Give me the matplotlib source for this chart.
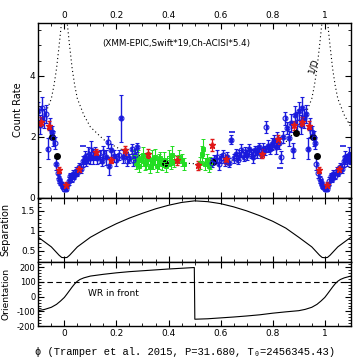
"""
Phase-folded X-ray light curve with orbital separation and orientation panels.
"""

import numpy as np
import matplotlib.pyplot as plt
from matplotlib.ticker import MultipleLocator, FormatStrFormatter

# ---- data (phase in [0, 1), repeated at phase -1 / +1 when drawn) ----
xmm_phase = [0.000, 0.004, 0.008, 0.012, 0.018, 0.022, 0.028, 0.032, 0.038, 0.045,
             0.050, 0.058, 0.065, 0.072, 0.078, 0.085, 0.092, 0.098, 0.104, 0.110,
             0.118, 0.125, 0.135, 0.145, 0.150, 0.160, 0.166, 0.172, 0.180, 0.190,
             0.200, 0.208, 0.217, 0.225, 0.235, 0.242, 0.250, 0.258, 0.265, 0.272,
             0.280, 0.565, 0.575, 0.585, 0.592, 0.600, 0.608, 0.615, 0.625, 0.632,
             0.640, 0.650, 0.658, 0.665, 0.672, 0.680, 0.688, 0.695, 0.702, 0.710,
             0.718, 0.725, 0.732, 0.740, 0.748, 0.755, 0.762, 0.770, 0.776, 0.782,
             0.790, 0.798, 0.805, 0.812, 0.818, 0.825, 0.830, 0.840, 0.849, 0.855,
             0.862, 0.870, 0.878, 0.885, 0.892, 0.900, 0.907, 0.913, 0.920, 0.928,
             0.936, 0.945, 0.952, 0.958, 0.963, 0.968, 0.975, 0.980, 0.985, 0.990,
             0.995]
xmm_rate = [0.30, 0.38, 0.28, 0.42, 0.55, 0.70, 0.62, 0.78, 0.72, 0.88,
            0.82, 1.00, 0.95, 1.20, 1.32, 1.25, 1.40, 1.30, 1.55, 1.35,
            1.45, 1.30, 1.35, 1.20, 1.50, 1.32, 1.83, 1.05, 1.55, 1.38,
            1.25, 1.40, 2.60, 1.35, 1.45, 1.20, 1.30, 1.60, 1.25, 1.40,
            1.65, 1.15, 1.25, 1.35, 1.10, 1.30, 1.40, 1.20, 1.35, 1.15,
            1.90, 1.30, 1.45, 1.25, 1.40, 1.55, 1.35, 1.50, 1.40, 1.60,
            1.45, 1.35, 1.55, 1.50, 1.65, 1.45, 1.60, 1.55, 2.33, 1.70,
            1.60, 1.75, 1.85, 1.65, 1.90, 1.80, 1.34, 2.00, 2.60, 2.30,
            1.95, 2.45, 1.56, 2.70, 2.50, 2.85, 2.40, 2.94, 2.60, 2.75,
            1.61, 2.30, 2.15, 1.95, 1.80, 1.10, 0.80, 0.60, 0.50, 0.42,
            0.35]
xmm_err = [0.08, 0.08, 0.07, 0.10, 0.12, 0.12, 0.10, 0.12, 0.12, 0.14,
           0.12, 0.15, 0.15, 0.18, 0.20, 0.20, 0.25, 0.20, 0.30, 0.25,
           0.20, 0.20, 0.20, 0.15, 0.20, 0.25, 0.20, 0.30, 0.20, 0.20,
           0.20, 0.15, 0.78, 0.20, 0.15, 0.15, 0.15, 0.15, 0.20, 0.20,
           0.15, 0.15, 0.15, 0.20, 0.20, 0.15, 0.15, 0.15, 0.15, 0.15,
           0.15, 0.15, 0.15, 0.15, 0.15, 0.20, 0.15, 0.15, 0.15, 0.15,
           0.15, 0.20, 0.15, 0.20, 0.15, 0.15, 0.20, 0.15, 0.20, 0.20,
           0.15, 0.20, 0.20, 0.20, 0.25, 0.20, 0.20, 0.20, 0.20, 0.20,
           0.25, 0.30, 0.25, 0.30, 0.30, 0.30, 0.30, 0.35, 0.30, 0.30,
           0.35, 0.30, 0.20, 0.25, 0.20, 0.20, 0.15, 0.12, 0.10, 0.10,
           0.08]

dash_phase = [0.070, 0.644, 0.828]
dash_rate = [1.70, 2.14, 0.99]

swift_phase = [0.008, 0.055, 0.120, 0.181, 0.232, 0.320, 0.434, 0.512, 0.566, 0.619,
               0.757, 0.820, 0.880, 0.911, 0.941, 0.979]
swift_rate = [0.42, 0.95, 1.50, 1.23, 1.56, 1.44, 1.23, 1.06, 1.72, 1.26,
              1.45, 1.91, 2.38, 2.50, 2.36, 0.90]
swift_err = [0.08, 0.10, 0.10, 0.10, 0.15, 0.15, 0.15, 0.15, 0.20, 0.15,
             0.15, 0.15, 0.15, 0.15, 0.15, 0.10]

chandra_phase = [0.268, 0.275, 0.282, 0.288, 0.295, 0.302, 0.308, 0.315, 0.322, 0.328,
                 0.335, 0.342, 0.348, 0.355, 0.362, 0.368, 0.375, 0.382, 0.392, 0.400,
                 0.408, 0.415, 0.422, 0.440, 0.450, 0.458, 0.520, 0.528, 0.534, 0.540,
                 0.548, 0.555, 0.560]
chandra_rate = [1.35, 1.15, 1.30, 1.05, 1.25, 1.40, 1.10, 1.20, 1.30, 1.00,
                1.25, 1.15, 1.35, 1.05, 1.20, 1.30, 1.10, 1.25, 1.05, 1.30,
                1.15, 1.40, 1.20, 1.35, 1.25, 1.10, 1.15, 1.45, 1.61, 1.10,
                1.25, 1.05, 1.15]
chandra_err = [0.20, 0.20, 0.25, 0.20, 0.20, 0.25, 0.20, 0.25, 0.20, 0.20,
               0.30, 0.20, 0.25, 0.20, 0.25, 0.20, 0.20, 0.25, 0.20, 0.25,
               0.20, 0.30, 0.20, 0.20, 0.20, 0.20, 0.20, 0.25, 0.30, 0.20,
               0.20, 0.20, 0.20]

mean_phase = [0.386, 0.570, 0.890, 0.953, 0.971]
mean_rate = [1.15, 1.17, 2.13, 2.00, 1.37]

orb_phase = [0.0, 0.01, 0.02, 0.03, 0.04, 0.05, 0.075, 0.1, 0.15, 0.2, 0.25, 0.3,
             0.35, 0.4, 0.45, 0.5, 0.55, 0.6, 0.65, 0.7, 0.75, 0.8, 0.85, 0.9,
             0.925, 0.95, 0.96, 0.97, 0.98, 0.99]
separation = [0.33, 0.335, 0.39, 0.46, 0.53, 0.60, 0.72, 0.84, 1.02, 1.18, 1.32, 1.44,
              1.55, 1.64, 1.71, 1.75, 1.73, 1.68, 1.60, 1.50, 1.38, 1.24, 1.07, 0.84,
              0.72, 0.60, 0.53, 0.46, 0.39, 0.335]

ori_phase = [0.0, 0.01, 0.02, 0.03, 0.04, 0.05, 0.06, 0.075, 0.1, 0.15, 0.2, 0.25,
             0.3, 0.35, 0.4, 0.45, 0.499, 0.501, 0.55, 0.6, 0.65, 0.7, 0.75, 0.8,
             0.85, 0.9, 0.925, 0.95, 0.97, 0.985]
orientation = [-5, 18, 42, 66, 88, 105, 117, 128, 140, 152, 162, 170,
               176, 182, 188, 193, 198, -153, -150, -144, -138, -131, -123, -112,
               -103, -95, -86, -72, -52, -30]

K_INV_D = 1.95   # scaling of the 1/D curve in the count-rate panel


def fold(phase, *cols):
    """Repeat a phased series one cycle before and after."""
    ph = np.asarray(phase, dtype=float)
    out_ph = np.concatenate([ph - 1, ph, ph + 1])
    out = [np.tile(np.asarray(c, dtype=float), 3) for c in cols]
    keep = (out_ph >= -0.1) & (out_ph <= 1.1)
    return [out_ph[keep]] + [c[keep] for c in out]


def fold_line(phase, values):
    ph = np.asarray(phase, dtype=float)
    v = np.asarray(values, dtype=float)
    return np.concatenate([ph - 1, ph, ph + 1]), np.tile(v, 3)


def style_axis(ax):
    ax.tick_params(which='both', direction='in', top=True, right=True,
                   labelsize=6.5, pad=2)
    ax.tick_params(which='major', length=4, width=0.8)
    ax.tick_params(which='minor', length=2, width=0.6)
    for s in ax.spines.values():
        s.set_linewidth(1.0)
    ax.set_xlim(-0.1, 1.1)
    ax.xaxis.set_major_locator(MultipleLocator(0.2))
    ax.xaxis.set_minor_locator(MultipleLocator(0.05))
    ax.xaxis.set_major_formatter(FormatStrFormatter('%g'))
    ax.yaxis.set_major_formatter(FormatStrFormatter('%g'))


plt.rcParams['font.family'] = ['DejaVu Sans']
fig = plt.figure(figsize=(3.58, 3.64), dpi=100)
left, width = 0.107, 0.873
ax1 = fig.add_axes([left, 0.457, width, 0.481])
ax2 = fig.add_axes([left, 0.280, width, 0.177], sharex=ax1)
ax3 = fig.add_axes([left, 0.104, width, 0.176], sharex=ax1)

# ---- top panel: count rate ----
sp, sv = fold_line(orb_phase, separation)
ax1.plot(sp, K_INV_D / sv, color='black', ls=(0, (1, 2.5)), lw=0.8)

p, r, e = fold(chandra_phase, chandra_rate, chandra_err)
ax1.errorbar(p, r, yerr=e, xerr=0.004, fmt='s', ms=2.5, mfc='none', mec='#22dd22',
             ecolor='#22dd22', elinewidth=0.8, capsize=1.5, mew=0.7)

p, r, e = fold(xmm_phase, xmm_rate, xmm_err)
ax1.errorbar(p, r, yerr=e, xerr=0.003, fmt='o', ms=3.5, mfc='none', mec='#1a1adc',
             ecolor='#1a1adc', elinewidth=1.0, capsize=1.6, mew=0.8)
p, r = fold(dash_phase, dash_rate)
ax1.plot(p, r, '_', color='#1a1adc', ms=5, mew=1.2)

p, r, e = fold(swift_phase, swift_rate, swift_err)
ax1.errorbar(p, r, yerr=e, fmt='*', ms=4.5, color='#e01818', ecolor='#e01818',
             elinewidth=0.9, capsize=1.6)

p, r = fold(mean_phase, mean_rate)
ax1.plot(p, r, 'o', color='black', ms=4)

ax1.set_ylim(0, 5.75)
ax1.yaxis.set_major_locator(MultipleLocator(2))
ax1.yaxis.set_minor_locator(MultipleLocator(0.5))
style_axis(ax1)
ax1.tick_params(labelbottom=False, labeltop=True)
ax1.set_ylabel('Count Rate', fontsize=7)
ax1.yaxis.set_label_coords(-0.05, 0.5)
ax1.text(0.43, 5.05, '(XMM-EPIC,Swift*19,Ch-ACISI*5.4)', fontsize=6.3,
         ha='center', va='center')
ax1.text(0.955, 4.35, '1/D', fontsize=6.5, rotation=72, ha='center', va='center')

# ---- middle panel: separation ----
ax2.plot(sp, sv, color='black', lw=0.8)
ax2.set_ylim(0.22, 1.83)
ax2.yaxis.set_major_locator(MultipleLocator(0.5))
ax2.yaxis.set_minor_locator(MultipleLocator(0.1))
style_axis(ax2)
ax2.tick_params(labelbottom=False)
ax2.set_ylabel('Separation', fontsize=7)
ax2.yaxis.set_label_coords(-0.088, 0.5)

# ---- bottom panel: orientation ----
op, ov = fold_line(ori_phase, orientation)
ax3.plot(op, ov, color='black', lw=0.8)
ax3.axhline(100, color='black', ls=(0, (5, 3)), lw=0.8)
ax3.text(0.19, 22, 'WR in front', fontsize=6.5, ha='center', va='center')
ax3.set_ylim(-200, 235)
ax3.yaxis.set_major_locator(MultipleLocator(100))
ax3.yaxis.set_minor_locator(MultipleLocator(20))
style_axis(ax3)
ax3.tick_params(axis='y', labelsize=6)
ax3.set_ylabel('Orientation', fontsize=6.6)
ax3.yaxis.set_label_coords(-0.088, 0.5)
ax3.set_xlabel('\u03d5 (Tramper et al. 2015, P=31.680, T\u2080=2456345.43)',
               fontsize=7.6, family=['Liberation Mono', 'DejaVu Sans Mono'],
               labelpad=3)
ax3.xaxis.set_label_coords(0.47, -0.33)

fig.savefig('out.png', dpi=100)
